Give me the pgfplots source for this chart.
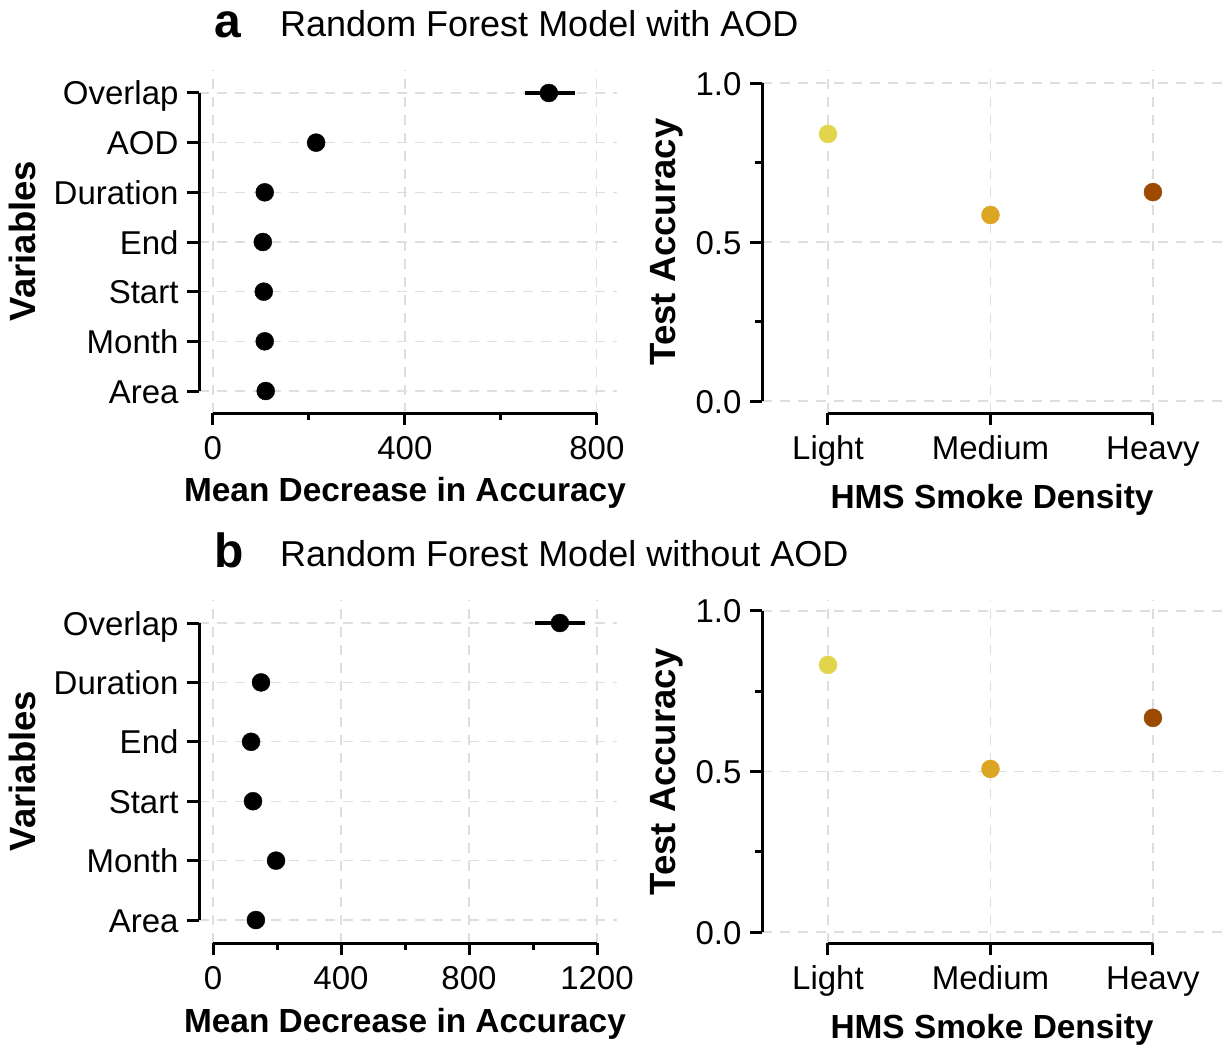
\documentclass[border=0pt]{standalone}
\usepackage{fontspec}
\setmainfont{Liberation Sans}
\usepackage{pgfplots}
\pgfplotsset{compat=1.18}

\definecolor{lightc}{HTML}{E3D54B}
\definecolor{medc}{HTML}{DCA623}
\definecolor{heavyc}{HTML}{9C4A00}
\definecolor{gridc}{HTML}{DEDEDE}

\newcommand\tickfont{\fontsize{33}{36}\selectfont}
\newcommand\xlabfont{\bfseries\fontsize{33.4}{36}\selectfont}
\newcommand\ylabfont{\bfseries\fontsize{36.5}{40}\selectfont}

\pgfplotsset{
  panel/.style={
    scale only axis, anchor=south west,
    axis lines*=left, axis line style={draw=none},
    clip=false,
    tick align=outside,
    major tick length=12pt, minor tick length=7pt,
    tick style={black, line width=3pt},
    grid=major,
    major grid style={gridc, line width=1.3pt, dash pattern=on 10pt off 8pt},
    ticklabel style={font=\tickfont},
    xticklabel style={anchor=base, yshift=-34pt},
    yticklabel style={anchor=base east, yshift=-12pt, xshift=-5pt},
    xlabel style={font=\xlabfont, at={(axis description cs:0.5,0)}, anchor=base},
  },
  dot/.style={only marks, mark=*, mark size=9pt},
}

\begin{document}
\begin{tikzpicture}
\useasboundingbox (0pt,0pt) rectangle (1225pt,-1047pt);

% titles
\node[anchor=base west, inner sep=0pt, font=\bfseries\fontsize{48}{48}\selectfont] at (214pt,-37pt) {a};
\node[anchor=base west, inner sep=0pt, font=\fontsize{36}{40}\selectfont] at (280pt,-36pt) {Random Forest Model with AOD};
\node[anchor=base west, inner sep=0pt, font=\bfseries\fontsize{48}{48}\selectfont] at (214pt,-567pt) {b};
\node[anchor=base west, inner sep=0pt, font=\fontsize{36}{40}\selectfont] at (280pt,-566pt) {Random Forest Model without AOD};

% y labels
\node[rotate=90, font=\ylabfont] at (22pt,-241pt) {Variables};
\node[rotate=90, font=\ylabfont] at (667pt,-242pt) {Test Accuracy};
\node[rotate=90, font=\ylabfont] at (22pt,-771pt) {Variables};
\node[rotate=90, font=\ylabfont] at (667pt,-772pt) {Test Accuracy};

% a: importance with AOD
\begin{axis}[panel, at={(199pt,-413pt)}, width=418pt, height=343pt,
  xmin=-29, xmax=842, ymin=0.557, ymax=7.463,
  xtick={0,400,800}, xticklabels={0,400,800}, minor xtick={200,600},
  ytick={1,2,3,4,5,6,7},
  yticklabels={Area,Month,Start,End,Duration,AOD,Overlap},
  xlabel={Mean Decrease in Accuracy}, xlabel style={yshift=-88pt, xshift=-3pt}]
\addplot[black, line width=4pt] coordinates {(650,7) (754,7)};
\addplot[dot, black] coordinates {
  (700,7) (215,6) (108,5) (104,4) (106,3) (108,2) (110,1)};
\draw[line width=3pt] (axis cs:0,0.557) -- (axis cs:800,0.557);
\draw[line width=3pt] (axis cs:-29,1) -- (axis cs:-29,7);
\end{axis}

% a: test accuracy
\begin{axis}[panel, at={(762pt,-413pt)}, width=460pt, height=343pt,
  xmin=0.594, xmax=3.425, ymin=-0.0377, ymax=1.0409,
  xtick={1,2,3}, xticklabels={Light,Medium,Heavy},
  ytick={0,0.5,1}, yticklabels={0.0,0.5,1.0}, minor ytick={0.25,0.75},
  xlabel={HMS Smoke Density}, xlabel style={yshift=-95pt}]
\addplot[dot, lightc] coordinates {(1,0.840)};
\addplot[dot, medc] coordinates {(2,0.585)};
\addplot[dot, heavyc] coordinates {(3,0.657)};
\draw[line width=3pt] (axis cs:1,-0.0377) -- (axis cs:3,-0.0377);
\draw[line width=3pt] (axis cs:0.594,0) -- (axis cs:0.594,1);
\end{axis}

% b: importance without AOD
\begin{axis}[panel, at={(199pt,-943pt)}, width=418pt, height=343pt,
  xmin=-43.75, xmax=1262.5, ymin=0.613, ymax=6.387,
  xtick={0,400,800,1200}, xticklabels={0,400,800,1200}, minor xtick={200,600,1000},
  ytick={1,2,3,4,5,6},
  yticklabels={Area,Month,Start,End,Duration,Overlap},
  xlabel={Mean Decrease in Accuracy}, xlabel style={yshift=-89pt, xshift=-3pt}]
\addplot[black, line width=4pt] coordinates {(1006,6) (1162,6)};
\addplot[dot, black] coordinates {
  (1084,6) (150,5) (119,4) (125,3) (197,2) (134,1)};
\draw[line width=3pt] (axis cs:0,0.613) -- (axis cs:1200,0.613);
\draw[line width=3pt] (axis cs:-43.75,1) -- (axis cs:-43.75,6);
\end{axis}

% b: test accuracy
\begin{axis}[panel, at={(762pt,-943pt)}, width=460pt, height=343pt,
  xmin=0.594, xmax=3.425, ymin=-0.034, ymax=1.034,
  xtick={1,2,3}, xticklabels={Light,Medium,Heavy},
  ytick={0,0.5,1}, yticklabels={0.0,0.5,1.0}, minor ytick={0.25,0.75},
  xlabel={HMS Smoke Density}, xlabel style={yshift=-95pt}]
\addplot[dot, lightc] coordinates {(1,0.832)};
\addplot[dot, medc] coordinates {(2,0.508)};
\addplot[dot, heavyc] coordinates {(3,0.667)};
\draw[line width=3pt] (axis cs:1,-0.034) -- (axis cs:3,-0.034);
\draw[line width=3pt] (axis cs:0.594,0) -- (axis cs:0.594,1);
\end{axis}
\end{tikzpicture}
\end{document}
